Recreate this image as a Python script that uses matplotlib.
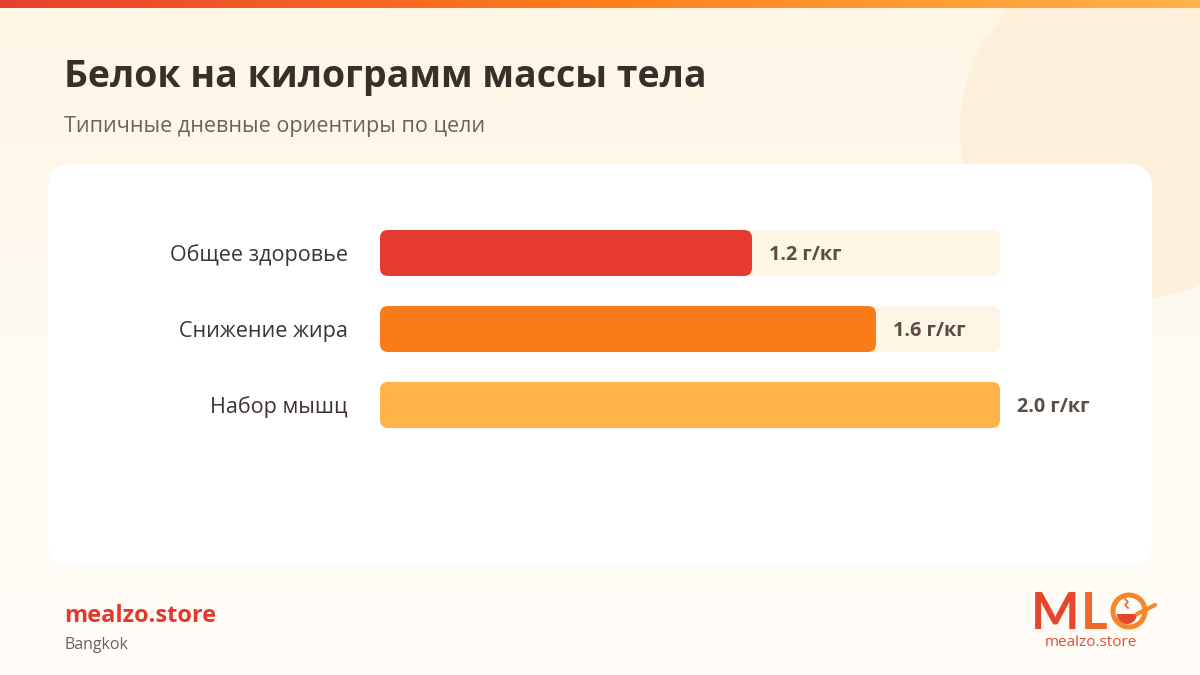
import numpy as np
import matplotlib
matplotlib.use("Agg")
import matplotlib.pyplot as plt
from matplotlib.patches import FancyBboxPatch, Circle, Wedge
from matplotlib.colors import LinearSegmentedColormap

# ---- data ----
categories = ["Общее здоровье", "Снижение жира", "Набор мышц"]
values = [1.2, 1.6, 2.0]
bar_colors = ["#E53B2F", "#FA7B1A", "#FDB24A"]
x_max = 2.0
unit = "г/кг"
title = "Белок на килограмм массы тела"
subtitle = "Типичные дневные ориентиры по цели"
brand = "mealzo.store"
city = "Bangkok"

plt.rcParams['font.family'] = ['Open Sans', 'DejaVu Sans']

W, H = 1200, 675
fig = plt.figure(figsize=(12, 6.75), dpi=100)

# background axes in pixel coords
bg = fig.add_axes([0, 0, 1, 1])
bg.set_xlim(0, W)
bg.set_ylim(H, 0)
bg.axis("off")

# vertical cream gradient
grad = np.linspace(0, 1, 256).reshape(-1, 1)
cmap_bg = LinearSegmentedColormap.from_list("bg", ["#FEF5E4", "#FFFAF2", "#FFFCF7"])
bg.imshow(grad, cmap=cmap_bg, extent=[0, W, H, 0], aspect="auto", zorder=0)

# decorative circle
bg.add_patch(Circle((1130, 130), 170, facecolor="#FDEBCF", alpha=0.55, edgecolor="none", zorder=1))

# top gradient strip
hgrad = np.linspace(0, 1, 256).reshape(1, -1)
cmap_top = LinearSegmentedColormap.from_list("top", ["#E8402F", "#FF7F1A", "#FFB34A"])
bg.imshow(hgrad, cmap=cmap_top, extent=[0, W, 8, 0], aspect="auto", zorder=2)

# card
bg.add_patch(FancyBboxPatch((48, 164), 1104, 401, boxstyle="round,pad=0,rounding_size=24",
                            facecolor="white", edgecolor="none", zorder=3))

# titles
bg.text(64, 87, title, fontsize=27, fontweight="bold", color="#3A2E28", va="baseline", ha="left", zorder=5)
bg.text(64, 132, subtitle, fontsize=15.5, color="#6B625C", va="baseline", ha="left", zorder=5)

# footer
bg.text(64, 622, brand, fontsize=17, fontweight="bold", color="#E03A2F", va="baseline", ha="left", zorder=5)
bg.text(64, 649, city, fontsize=11.5, color="#6B625C", va="baseline", ha="left", zorder=5)

# logo
bg.text(1031, 629, "M", fontsize=37, fontweight="bold", color="#E8452F", va="baseline", ha="left",
        family=["Lato", "DejaVu Sans"], zorder=5)
bg.text(1081, 629, "L", fontsize=37, fontweight="bold", color="#F2662A", va="baseline", ha="left",
        family=["Lato", "DejaVu Sans"], zorder=5)
bg.add_patch(Circle((1129, 611), 16, facecolor="none", edgecolor="#F7862A", linewidth=3.6, zorder=5))
bg.add_patch(Wedge((1127, 614), 10, 0, 180, facecolor="#E8452F", edgecolor="none", zorder=6))
bg.plot([1137, 1155], [614, 605], color="#F7862A", linewidth=3, solid_capstyle="round", zorder=6)
bg.plot([1125, 1128, 1125, 1128], [599, 602, 605, 608], color="#F06A2A", linewidth=1.2, zorder=6)
bg.text(1091, 646, brand, fontsize=11, color="#E0502F", va="baseline", ha="center", zorder=5)

# ---- bar chart axes ----
px_left, px_right = 380, 1000
row_px = 76
top_px = 253 - row_px / 2
h_px = row_px * len(categories)
ax = fig.add_axes([px_left / W, 1 - (top_px + h_px) / H, (px_right - px_left) / W, h_px / H])
ax.set_xlim(0, x_max)
ax.set_ylim(len(categories) - 0.5, -0.5)
ax.axis("off")
ax.patch.set_alpha(0)
ax.set_zorder(10)

x_per_px = x_max / (px_right - px_left)
y_per_px = 1.0 / row_px
bar_h = 46 * y_per_px
rad = 8 * x_per_px
aspect = y_per_px / x_per_px

for i, (cat, v, c) in enumerate(zip(categories, values, bar_colors)):
    ax.add_patch(FancyBboxPatch((0, i - bar_h / 2), x_max, bar_h,
                                boxstyle=f"round,pad=0,rounding_size={rad}",
                                mutation_aspect=aspect, facecolor="#FEF5E4", edgecolor="none", zorder=1))
    ax.add_patch(FancyBboxPatch((0, i - bar_h / 2), v, bar_h,
                                boxstyle=f"round,pad=0,rounding_size={rad}",
                                mutation_aspect=aspect, facecolor=c, edgecolor="none", zorder=2))
    ax.annotate(f"{v:.1f} {unit}", xy=(v, i), xytext=(17 * 0.72, -2 * 0.72), textcoords="offset points",
                ha="left", va="center", fontsize=14.2, fontweight="bold", color="#5B4C44", zorder=3)
    ax.annotate(cat, xy=(0, i), xytext=(-32 * 0.72, -2 * 0.72), textcoords="offset points",
                ha="right", va="center", fontsize=15.5, color="#3D3430", zorder=3)

fig.savefig("out.png", dpi=100)
